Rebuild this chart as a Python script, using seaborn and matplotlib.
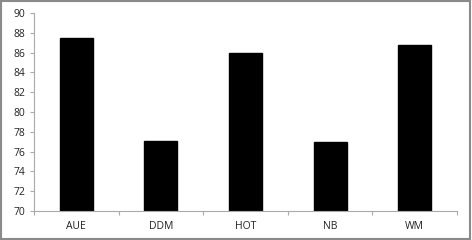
import matplotlib
matplotlib.use("Agg")
import matplotlib.pyplot as plt
import seaborn as sns
import pandas as pd
from matplotlib.patches import Rectangle

categories = ["AUE", "DDM", "HOT", "NB", "WM"]
values = [87.5, 77.1, 86.0, 77.0, 86.8]
yticks = [70, 72, 74, 76, 78, 80, 82, 84, 86, 88, 90]

sns.set_theme(style="white")
plt.rcParams['font.family'] = ['Open Sans', 'DejaVu Sans']

df = pd.DataFrame({"cat": categories, "val": values})

fig = plt.figure(figsize=(4.72, 2.40), dpi=100)
ax = fig.add_axes([34/472, 1-211/240, (457-34)/472, (211-13)/240])
sns.barplot(data=df, x="cat", y="val", color="black", width=0.39, ax=ax,
            saturation=1, edgecolor="black")
ax.set_ylim(70, 90)
ax.set_xlim(-0.5, 4.5)
ax.set_yticks(yticks)
ax.set_yticklabels([str(t) for t in yticks], fontsize=7.5, color="#222222")
ax.set_xlabel("")
ax.set_ylabel("")
ax.tick_params(axis="x", which="major", length=0, labelsize=7.5, labelcolor="#222222", pad=7)
ax.set_xticks([-0.5, 0.5, 1.5, 2.5, 3.5, 4.5], minor=True)
ax.tick_params(axis="x", which="minor", length=3, color="#aaaaaa", width=0.8, direction="out", bottom=True)
ax.tick_params(axis="y", which="major", length=3, color="#aaaaaa", width=0.8, direction="out", left=True, pad=3)
for s in ["top", "right"]:
    ax.spines[s].set_visible(False)
for s in ["left", "bottom"]:
    ax.spines[s].set_color("#aaaaaa")
    ax.spines[s].set_linewidth(0.8)

fig.patches.append(Rectangle((0.002, 0.004), 0.994, 0.99, transform=fig.transFigure,
                             fill=False, edgecolor="#8a8a8a", linewidth=1.5))
fig.savefig("out.png", dpi=100)
